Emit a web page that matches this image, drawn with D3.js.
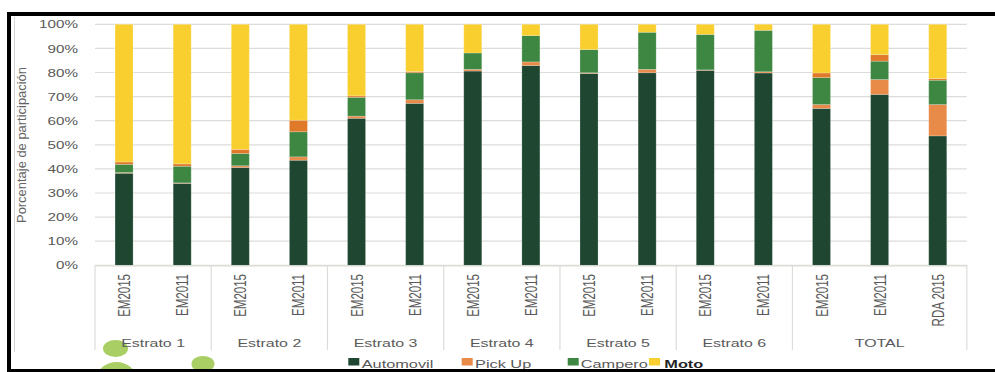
<!DOCTYPE html>
<html>
<head>
<meta charset="utf-8">
<script src="https://cdn.jsdelivr.net/npm/d3@7"></script>
<style>
  html, body { margin: 0; padding: 0; background: #fff; }
  svg { display: block; }
  text { font-family: "Liberation Sans", Arial, sans-serif; }
</style>
</head>
<body>
<svg id="chart" width="995" height="372"></svg>
<script>
// Grupos y barras del eje horizontal
const grupos = ["Estrato 1", "Estrato 2", "Estrato 3", "Estrato 4", "Estrato 5", "Estrato 6", "TOTAL"];
const barrasPorGrupo = [2, 2, 2, 2, 2, 2, 3];
const etiquetasBarra = ["EM2015", "EM2011", "EM2015", "EM2011", "EM2015", "EM2011", "EM2015", "EM2011",
                        "EM2015", "EM2011", "EM2015", "EM2011", "EM2015", "EM2011", "RDA 2015"];

// Participación (%) por tipo de vehículo
const automovil = [38.2, 34.0, 40.6, 43.6, 61.0, 67.2, 80.6, 82.9, 79.6, 79.9, 80.9, 79.8, 65.1, 70.9, 53.7];
const pickUp    = [0.3, 0.2, 0.7, 1.4, 0.9, 1.5, 0.7, 1.5, 0.3, 1.4, 0.2, 0.5, 1.6, 6.2, 13.0];
const campero   = [3.4, 6.9, 5.1, 10.4, 7.8, 11.2, 6.8, 10.9, 9.6, 15.4, 14.7, 17.2, 11.2, 7.6, 10.1];
const otros     = [1.0, 1.0, 1.7, 4.8, 0.6, 0.5, 0.0, 0.0, 0.0, 0.0, 0.0, 0.0, 1.9, 2.7, 0.7];
const moto      = [57.1, 57.9, 51.9, 39.8, 29.7, 19.6, 11.9, 4.7, 10.5, 3.3, 4.2, 2.5, 20.2, 12.6, 22.5];

const ticksY = [0, 10, 20, 30, 40, 50, 60, 70, 80, 90, 100];

const series = [
  { key: "automovil", nombre: "Automovil", valores: automovil, color: "#1e4631", leyenda: true },
  { key: "pickUp",    nombre: "Pick Up",   valores: pickUp,    color: "#e88a48", leyenda: true },
  { key: "campero",   nombre: "Campero",   valores: campero,   color: "#3e8743", leyenda: true },
  { key: "otros",     nombre: "Otros",     valores: otros,     color: "#df7a2b", leyenda: false },
  { key: "moto",      nombre: "Moto",      valores: moto,      color: "#f9cf30", leyenda: true }
];

const tabla = etiquetasBarra.map((e, i) => {
  const fila = { i };
  series.forEach(s => fila[s.key] = s.valores[i]);
  return fila;
});

const SX = 1.45;          // ensanchamiento horizontal del texto
const gris = "#595959";
const svg = d3.select("#chart");

const x = d3.scaleBand()
  .domain(d3.range(etiquetasBarra.length))
  .range([95, 966.8])
  .paddingInner(0.69)
  .paddingOuter(0.345);

const y = d3.scaleLinear().domain([0, 100]).range([265.3, 24.3]);

// Cuadrícula horizontal
svg.append("g").selectAll("line").data(ticksY).join("line")
  .attr("x1", 95).attr("x2", 966.8)
  .attr("y1", d => y(d)).attr("y2", d => y(d))
  .attr("stroke", "#dcdcd8").attr("stroke-width", 1.2);

// Barras apiladas
const stack = d3.stack().keys(series.map(s => s.key));
const capas = stack(tabla);
svg.append("g").selectAll("g").data(capas).join("g")
  .attr("fill", (d, i) => series[i].color)
  .selectAll("rect").data(d => d).join("rect")
  .attr("x", d => x(d.data.i))
  .attr("width", x.bandwidth())
  .attr("y", d => y(d[1]))
  .attr("height", d => Math.max(0, y(d[0]) - y(d[1])))
  .attr("stroke", "#ffffff").attr("stroke-opacity", 0.25).attr("stroke-width", 0.8);

// Eje Y
const ejeY = svg.append("g").attr("transform", "translate(78,0)")
  .call(d3.axisLeft(y).tickValues(ticksY).tickFormat(d => d + "%").tickSize(0).tickPadding(0));
ejeY.select(".domain").remove();
ejeY.selectAll("text")
  .attr("x", 0).attr("dy", "0.35em")
  .attr("transform", `scale(${SX},1)`)
  .attr("fill", gris).style("font-size", "10.5px")
  .style("font-family", "'Liberation Sans', Arial, sans-serif");

// Eje X con etiquetas verticales
const ejeX = svg.append("g").attr("transform", `translate(0,${y(0)})`)
  .call(d3.axisBottom(x).tickFormat(i => etiquetasBarra[i]).tickSize(0).tickPadding(0));
ejeX.select(".domain").attr("stroke", "#dcdcd8").attr("stroke-width", 1.2);
ejeX.selectAll("text")
  .attr("y", 0).attr("x", 0).attr("dy", "0.36em")
  .attr("text-anchor", "end")
  .attr("transform", `translate(0,8.7) scale(${SX},1) rotate(-90)`)
  .attr("fill", gris).style("font-size", "11.5px")
  .style("font-family", "'Liberation Sans', Arial, sans-serif");

// Separadores y nombres de grupo
const limites = [0];
barrasPorGrupo.forEach((n, k) => limites.push(limites[k] + n));
const paso = x.step();
const xLimite = j => x.range()[0] + j * paso;
svg.append("g").selectAll("line").data(limites).join("line")
  .attr("x1", d => xLimite(d)).attr("x2", d => xLimite(d))
  .attr("y1", y(0)).attr("y2", 350)
  .attr("stroke", "#dcdcd8").attr("stroke-width", 1.2);

// Figuras decorativas verdes
const figuras = svg.append("g").attr("fill", "#a9ce64");
figuras.append("ellipse").attr("cx", 115.5).attr("cy", 348.5).attr("rx", 12.5).attr("ry", 8.5);
figuras.append("ellipse").attr("cx", 116.5).attr("cy", 377).attr("rx", 19).attr("ry", 15);
figuras.append("ellipse").attr("cx", 203).attr("cy", 364).attr("rx", 11.5).attr("ry", 8);

svg.append("g").selectAll("text").data(grupos).join("text")
  .attr("transform", (d, k) => `translate(${(xLimite(limites[k]) + xLimite(limites[k + 1])) / 2},346.7) scale(${SX},1)`)
  .attr("text-anchor", "middle")
  .attr("fill", gris).style("font-size", "11px")
  .text(d => d);

// Título del eje Y
svg.append("text")
  .attr("transform", "translate(22,145) rotate(-90)")
  .attr("text-anchor", "middle").attr("dy", "0.35em")
  .attr("textLength", 156).attr("lengthAdjust", "spacingAndGlyphs")
  .attr("fill", "#636363").style("font-size", "12.5px")
  .text("Porcentaje de participación");

// Leyenda
const leyenda = series.filter(s => s.leyenda);
const xCuadro = [348.3, 461.7, 567.7, 649];
const xTexto = [361.7, 475, 580.7, 664.3];
const itemLey = svg.append("g").selectAll("g").data(leyenda).join("g");
itemLey.append("rect")
  .attr("x", (d, k) => xCuadro[k]).attr("y", 358)
  .attr("width", 11).attr("height", 7.5)
  .attr("fill", d => d.color);
itemLey.append("text")
  .attr("transform", (d, k) => `translate(${xTexto[k]},367.8) scale(${1.42},1)`)
  .attr("fill", d => d.key === "moto" ? "#262626" : gris)
  .style("font-weight", d => d.key === "moto" ? "bold" : "normal")
  .style("font-size", "11.5px")
  .text(d => d.nombre);

// Marco
svg.append("line").attr("x1", 14.5).attr("x2", 14.5).attr("y1", 17).attr("y2", 352)
  .attr("stroke", "#d4d4d4").attr("stroke-width", 1);
const marco = svg.append("g").attr("fill", "#000");
marco.append("rect").attr("x", 7).attr("y", 12).attr("width", 988).attr("height", 4);
marco.append("rect").attr("x", 7).attr("y", 12).attr("width", 4).attr("height", 360);
marco.append("rect").attr("x", 7).attr("y", 369).attr("width", 988).attr("height", 3);
</script>
</body>
</html>
